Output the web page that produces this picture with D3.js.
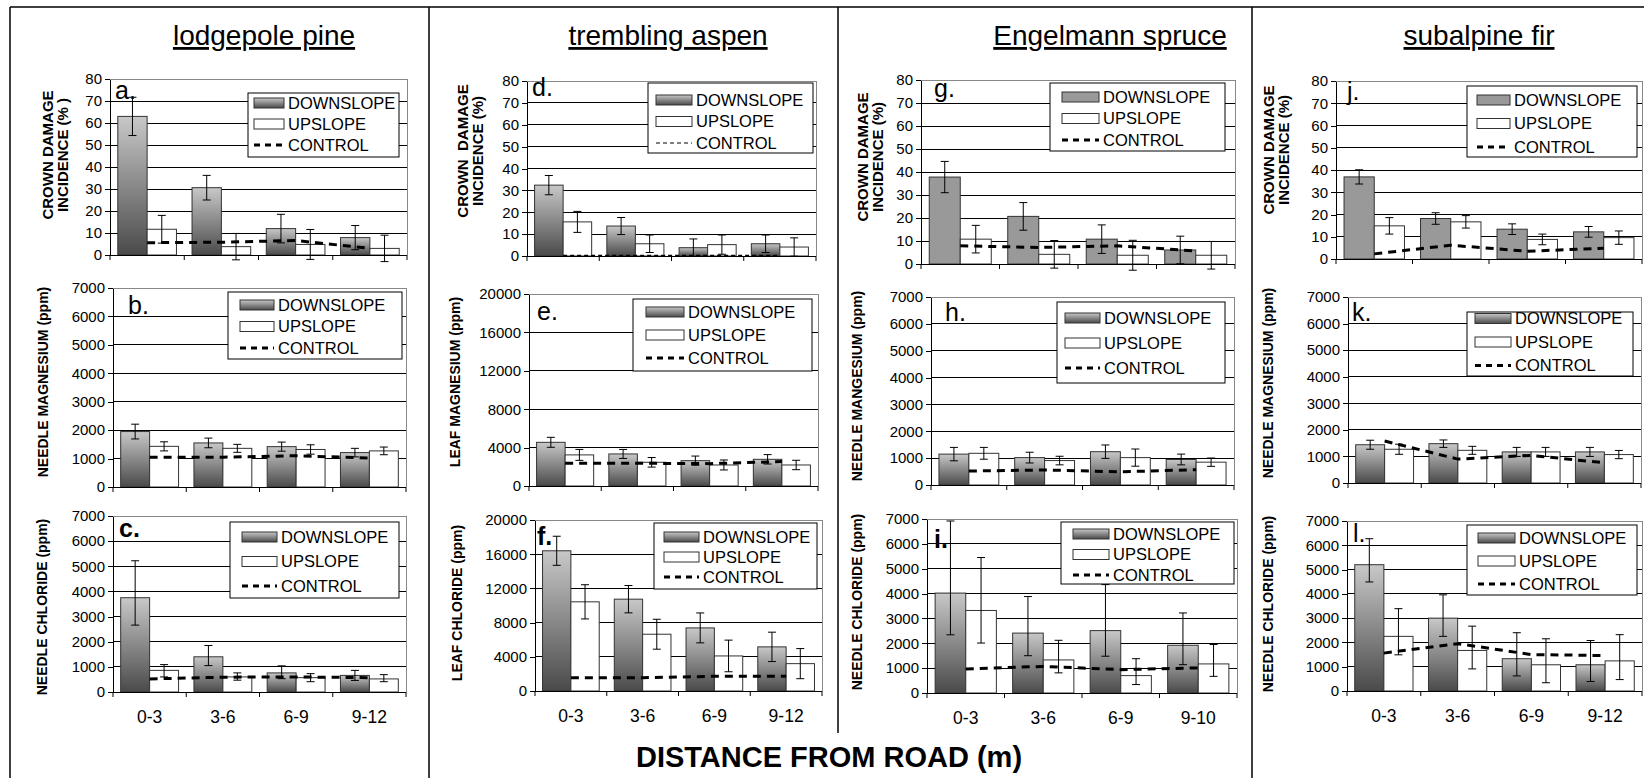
<!DOCTYPE html>
<html>
<head>
<meta charset="utf-8">
<script src="https://cdn.jsdelivr.net/npm/d3@7"></script>
<style>
  body { margin: 0; background: #fff; }
  text { font-family: "Liberation Sans", Arial, sans-serif; }
</style>
</head>
<body>
<svg id="chart" width="1644" height="778"></svg>
<script>
// ---- data ----
var categories = ['0-3', '3-6', '6-9', '9-12'];
var categoriesSpruce = ['0-3', '3-6', '6-9', '9-10'];
var species = ['lodgepole pine', 'trembling aspen', 'Engelmann spruce', 'subalpine fir'];
var seriesNames = ['DOWNSLOPE', 'UPSLOPE', 'CONTROL'];
var panelLetters = ['a.', 'b.', 'c.', 'd.', 'e.', 'f.', 'g.', 'h.', 'i.', 'j.', 'k.', 'l.'];
var xTitle = 'DISTANCE FROM ROAD (m)';

var crownTicks = [0, 10, 20, 30, 40, 50, 60, 70, 80];
var needleTicks = [0, 1000, 2000, 3000, 4000, 5000, 6000, 7000];
var leafTicks = [0, 4000, 8000, 12000, 16000, 20000];

var crownTitles = [['CROWN DAMAGE', 'INCIDENCE (% )'], ['CROWN  DAMAGE', 'INCIDENCE (%)'],
  ['CROWN DAMAGE', 'INCIDENCE (%)'], ['CROWN DAMAGE', 'INCIDENCE (%)']];
var mgTitles = [['NEEDLE MAGNESIUM (ppm)'], ['LEAF MAGNESIUM (ppm)'], ['NEEDLE MANGESIUM (ppm)'], ['NEEDLE MAGNESIUM (ppm)']];
var clTitles = [['NEEDLE CHLORIDE (ppm)'], ['LEAF CHLORIDE (ppm)'], ['NEEDLE CHLORIDE (ppm)'], ['NEEDLE CHLORIDE (ppm)']];

// crown damage incidence (%), one array per species
var crownDown = [[63, 30.6, 12, 7.9], [32.4, 13.7, 3.8, 5.6], [37.8, 20.7, 10.8, 6.1], [36.9, 18.2, 13.4, 12.2]];
var crownDownErr = [[8.7, 5.6, 6.5, 5.5], [4.4, 3.9, 4, 4], [6.8, 6, 6.2, 6], [3.2, 2.6, 2.4, 2.4]];
var crownUp = [[11.7, 3.8, 4.8, 3], [15.6, 5.6, 5.2, 4.1], [10.8, 4.2, 3.8, 3.8], [14.9, 16.7, 8.8, 9.6]];
var crownUpErr = [[6.3, 6, 6.8, 6], [4.8, 4, 4.4, 4.2], [6, 6, 6.5, 6], [3.7, 2.8, 2.4, 3]];
var crownControl = [[5.6, 5.8, 6.6, 3], [0.3, 0.3, 0.3, 0.3], [7.9, 7.2, 7.9, 5.7], [2.3, 6.2, 3.5, 4.8]];

// magnesium (ppm)
var mgDown = [[1950, 1550, 1420, 1210], [4550, 3340, 2640, 2780], [1150, 1020, 1240, 950], [1440, 1480, 1170, 1170]];
var mgDownErr = [[260, 170, 160, 150], [520, 470, 480, 490], [250, 200, 250, 200], [170, 140, 170, 170]];
var mgUp = [[1430, 1360, 1320, 1270], [3240, 2470, 2190, 2190], [1180, 910, 1020, 850], [1270, 1230, 1170, 1070]];
var mgUpErr = [[160, 140, 165, 135], [570, 500, 520, 490], [220, 160, 320, 155], [190, 150, 170, 155]];
var mgControl = [[1050, 1050, 1100, 1020], [2370, 2370, 2330, 2540], [520, 560, 490, 570], [1580, 900, 1040, 760]];

// chloride (ppm); [plus, minus] where the bars are not symmetric
var clDown = [[3750, 1400, 760, 660], [16400, 10740, 7380, 5160], [4020, 2410, 2510, 1920], [5200, 3000, 1330, 1080]];
var clDownErr = [
  [[1470, 1090], [450, 350], [280, 230], [200, 200]],
  [1700, 1600, 1750, 1720],
  [[2900, 1680], [1470, 910], [1850, 1030], [1300, 780]],
  [[1070, 710], [960, 750], [1070, 710], [1000, 690]]
];
var clUp = [[860, 600, 570, 520], [10430, 6640, 4100, 3200], [3320, 1330, 700, 1170], [2250, 1670, 1080, 1240]];
var clUpErr = [
  [[230, 260], [160, 130], [160, 160], [170, 110]],
  [2000, 1750, 1850, 1760],
  [[2130, 1310], [790, 520], [680, 360], [780, 500]],
  [[1140, 760], [1000, 760], [1070, 740], [1080, 770]]
];
var clControl = [[520, 590, 600, 570], [1560, 1560, 1720, 1720], [970, 1070, 940, 1010], [1560, 1950, 1500, 1460]];

// ---- layout (pixel positions of each panel, a..l) ----
// plot: [left, right, top, bottom]; leg: [x, y, w, h, firstRowY, rowStep, swatchOffset, swatchW]
var layout = [
  {plot: [110, 407, 79, 255], leg: [248, 93, 151, 64, 103, 21, 6, 30], letter: [115, 99], ttl: [55, 155]},
  {plot: [113, 406, 288, 487], leg: [228, 292, 174, 67, 305, 21.5, 12, 34], letter: [128, 314], ttl: [43, 382]},
  {plot: [113, 406, 516, 692], leg: [230, 522, 169, 76, 537, 24.5, 12, 35], letter: [119, 537], ttl: [42, 607]},
  {plot: [527, 816, 81, 256], leg: [648, 83, 165, 70, 100, 21.5, 8, 36], letter: [532, 96], ttl: [470, 151]},
  {plot: [529, 818, 294, 486], leg: [633, 299, 179, 72, 312, 23, 13, 38], letter: [537, 320], ttl: [455, 382]},
  {plot: [535, 822, 520, 691], leg: [654, 523, 163, 66, 537, 20, 10, 35], letter: [537, 545], ttl: [457, 603]},
  {plot: [921, 1235, 80, 264], leg: [1050, 83, 175, 68, 97, 21.5, 12, 37], letter: [934, 97], ttl: [870, 157]},
  {plot: [931, 1234, 297, 485], leg: [1057, 302, 168, 81, 318, 25, 8, 35], letter: [945, 321], ttl: [857, 386]},
  {plot: [927, 1237, 519, 693], leg: [1061, 522, 173, 62, 534, 20.5, 12, 36], letter: [934, 548], ttl: [857, 602]},
  {plot: [1336, 1642, 81, 259], leg: [1467, 86, 170, 71, 100, 23.5, 10, 33], letter: [1347, 100], ttl: [1276, 150]},
  {plot: [1348, 1641, 297, 483], leg: [1467, 312, 166, 64, 318.5, 23.5, 8, 36], letter: [1352, 321], ttl: [1268, 383]},
  {plot: [1347, 1642, 521, 691], leg: [1467, 525, 170, 70, 538, 23, 11, 37], letter: [1353, 542], ttl: [1268, 604]}
];
var titleX = [264, 668, 1110, 1479];

var rows = [
  {down: crownDown, downErr: crownDownErr, up: crownUp, upErr: crownUpErr, control: crownControl,
    ticks: [crownTicks, crownTicks, crownTicks, crownTicks], titles: crownTitles},
  {down: mgDown, downErr: mgDownErr, up: mgUp, upErr: mgUpErr, control: mgControl,
    ticks: [needleTicks, leafTicks, needleTicks, needleTicks], titles: mgTitles},
  {down: clDown, downErr: clDownErr, up: clUp, upErr: clUpErr, control: clControl,
    ticks: [needleTicks, leafTicks, needleTicks, needleTicks], titles: clTitles}
];

var svg = d3.select('#chart');
var defs = svg.append('defs');
var grad = defs.append('linearGradient').attr('id', 'gradDown')
  .attr('x1', 0).attr('y1', 0).attr('x2', 0).attr('y2', 1);
grad.append('stop').attr('offset', '0%').attr('stop-color', '#c8c8c8');
grad.append('stop').attr('offset', '100%').attr('stop-color', '#4a4a4a');

function errPair(e) {
  return Array.isArray(e) ? e : [e, e];
}

// outer frame + column dividers
var frame = svg.append('g').attr('stroke', '#000').attr('stroke-width', 1.5);
frame.append('line').attr('x1', 10).attr('x2', 1644).attr('y1', 7).attr('y2', 7);
frame.append('line').attr('x1', 10).attr('x2', 10).attr('y1', 7).attr('y2', 778);
frame.append('line').attr('x1', 429).attr('x2', 429).attr('y1', 7).attr('y2', 778);
frame.append('line').attr('x1', 838).attr('x2', 838).attr('y1', 7).attr('y2', 733);
frame.append('line').attr('x1', 1252).attr('x2', 1252).attr('y1', 7).attr('y2', 778);

species.forEach(function(name, i) {
  svg.append('text').attr('x', titleX[i]).attr('y', 45)
    .attr('text-anchor', 'middle').attr('font-size', 28)
    .style('text-decoration', 'underline')
    .text(name);
});

svg.append('text').attr('x', 829).attr('y', 767).attr('text-anchor', 'middle')
  .attr('font-size', 29).attr('font-weight', 'bold').text(xTitle);

function drawPanel(col, row) {
  var p = col * 3 + row;
  var L = layout[p];
  var set = rows[row];
  var ticks = set.ticks[col];
  var cats = col === 2 ? categoriesSpruce : categories;
  var solid = row === 0 && col >= 2;
  var thin = row === 0 && col === 1;
  var x0 = L.plot[0], x1 = L.plot[1], yT = L.plot[2], yB = L.plot[3];

  var y = d3.scaleLinear().domain([0, d3.max(ticks)]).range([yB, yT]);
  var x = d3.scaleBand().domain(cats).range([x0, x1]).paddingInner(0.21).paddingOuter(0.105);
  var xs = d3.scaleBand().domain(['down', 'up']).range([0, x.bandwidth()]);

  var g = svg.append('g');

  // gridlines
  g.selectAll('line.grid').data(ticks.slice(1)).enter().append('line')
    .attr('x1', x0).attr('x2', x1)
    .attr('y1', function(d) { return y(d); }).attr('y2', function(d) { return y(d); })
    .attr('stroke', '#000').attr('stroke-width', 1)
    .attr('shape-rendering', 'crispEdges');
  g.append('path').attr('d', 'M' + x0 + ',' + yT + 'H' + x1 + 'V' + yB)
    .attr('fill', 'none').attr('stroke', '#888').attr('shape-rendering', 'crispEdges');

  var bars = [];
  cats.forEach(function(c, i) {
    bars.push({cat: c, key: 'down', v: set.down[col][i], e: errPair(set.downErr[col][i])});
    bars.push({cat: c, key: 'up', v: set.up[col][i], e: errPair(set.upErr[col][i])});
  });

  g.selectAll('rect.bar').data(bars).enter().append('rect')
    .attr('x', function(d) { return x(d.cat) + xs(d.key); })
    .attr('y', function(d) { return y(d.v); })
    .attr('width', xs.bandwidth())
    .attr('height', function(d) { return yB - y(d.v); })
    .attr('fill', function(d) { return d.key === 'up' ? '#fff' : (solid ? '#999' : 'url(#gradDown)'); })
    .attr('stroke', '#333').attr('stroke-width', 1);

  // error bars
  var eb = g.selectAll('g.err').data(bars).enter().append('g')
    .attr('stroke', '#000').attr('stroke-width', 1);
  function cx(d) { return x(d.cat) + xs(d.key) + xs.bandwidth() / 2; }
  eb.append('line')
    .attr('x1', cx).attr('x2', cx)
    .attr('y1', function(d) { return y(d.v + d.e[0]); })
    .attr('y2', function(d) { return y(d.v - d.e[1]); });
  eb.append('line')
    .attr('x1', function(d) { return cx(d) - 4; }).attr('x2', function(d) { return cx(d) + 4; })
    .attr('y1', function(d) { return y(d.v + d.e[0]); }).attr('y2', function(d) { return y(d.v + d.e[0]); });
  eb.append('line')
    .attr('x1', function(d) { return cx(d) - 4; }).attr('x2', function(d) { return cx(d) + 4; })
    .attr('y1', function(d) { return y(d.v - d.e[1]); }).attr('y2', function(d) { return y(d.v - d.e[1]); });

  // control line
  var line = d3.line()
    .x(function(d, i) { return x(cats[i]) + x.bandwidth() / 2; })
    .y(function(d) { return y(d); });
  g.append('path').datum(set.control[col]).attr('d', line)
    .attr('fill', 'none').attr('stroke', '#000')
    .attr('stroke-width', thin ? 1.2 : 3)
    .attr('stroke-dasharray', thin ? '4,3' : '8,6');

  // y axis
  var ay = g.append('g').attr('transform', 'translate(' + x0 + ',0)')
    .call(d3.axisLeft(y).tickValues(ticks).tickFormat(d3.format('d'))
      .tickSize(5).tickSizeOuter(0).tickPadding(3));
  ay.attr('font-size', 15).attr('font-family', '"Liberation Sans", Arial, sans-serif');
  ay.select('.domain').attr('stroke', '#000').attr('shape-rendering', 'crispEdges');
  ay.selectAll('.tick line').attr('stroke', '#000').attr('shape-rendering', 'crispEdges');
  ay.selectAll('.tick text').attr('fill', '#000');

  // x axis, ticks on category boundaries
  g.append('line').attr('x1', x0).attr('x2', x1).attr('y1', yB).attr('y2', yB)
    .attr('stroke', '#000').attr('shape-rendering', 'crispEdges');
  g.selectAll('line.xt').data(d3.range(cats.length + 1)).enter().append('line')
    .attr('x1', function(i) { return x0 + i * x.step(); })
    .attr('x2', function(i) { return x0 + i * x.step(); })
    .attr('y1', yB).attr('y2', yB + 5).attr('stroke', '#000');
  if (row === 2) {
    g.selectAll('text.cat').data(cats).enter().append('text')
      .attr('x', function(c) { return x(c) + x.bandwidth() / 2; })
      .attr('y', yB + 31).attr('text-anchor', 'middle').attr('font-size', 17.5)
      .text(function(c) { return c; });
  }

  // y title
  var lines = set.titles[col];
  var tt = g.append('text')
    .attr('transform', 'translate(' + L.ttl[0] + ',' + L.ttl[1] + ') rotate(-90)')
    .attr('text-anchor', 'middle').attr('font-size', lines.length === 2 ? 15 : 14)
    .attr('font-weight', 'bold')
    .style('white-space', 'pre');
  lines.forEach(function(t, i) {
    var off = lines.length === 1 ? 0 : (i === 0 ? -7.5 : 7.5);
    tt.append('tspan').attr('x', 0).attr('y', off + 5).text(t);
  });

  // legend
  var lg = L.leg;
  g.append('rect').attr('x', lg[0]).attr('y', lg[1]).attr('width', lg[2]).attr('height', lg[3])
    .attr('fill', '#fff').attr('stroke', '#000');
  var sx = lg[0] + lg[6], sw = lg[7];
  seriesNames.forEach(function(name, i) {
    var ry = lg[4] + i * lg[5];
    if (i < 2) {
      g.append('rect').attr('x', sx).attr('y', ry - 5).attr('width', sw).attr('height', 10)
        .attr('fill', i === 0 ? (solid ? '#999' : 'url(#gradDown)') : '#fff')
        .attr('stroke', '#333');
    } else {
      g.append('line').attr('x1', sx).attr('x2', sx + sw).attr('y1', ry).attr('y2', ry)
        .attr('stroke', '#000').attr('stroke-width', thin ? 1.2 : 3)
        .attr('stroke-dasharray', thin ? '4,3' : '6,5');
    }
    g.append('text').attr('x', sx + sw + 4).attr('y', ry).attr('dy', '0.36em')
      .attr('font-size', 16.5).text(name);
  });

  // panel letter
  g.append('text').attr('x', L.letter[0]).attr('y', L.letter[1]).attr('font-size', 25)
    .attr('font-weight', row === 2 && col < 3 ? 'bold' : 'normal')
    .text(panelLetters[p]);
}

for (var col = 0; col < 4; col++) {
  for (var row = 0; row < 3; row++) {
    drawPanel(col, row);
  }
}
</script>
</body>
</html>
